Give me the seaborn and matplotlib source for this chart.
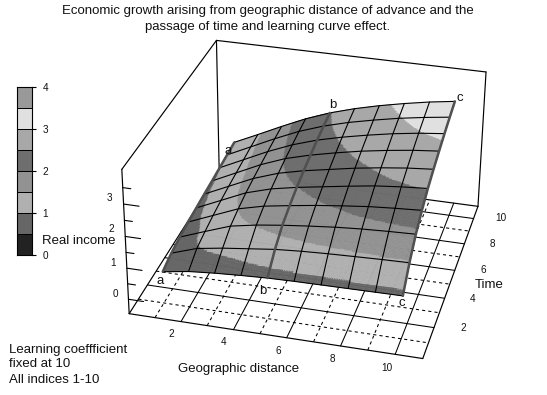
# -*- coding: utf-8 -*-
"""Economic growth surface over geographic distance and time."""
import numpy as np
import matplotlib
matplotlib.use("Agg")
import matplotlib.pyplot as plt
import matplotlib.tri as mtri
from matplotlib.colors import ListedColormap, BoundaryNorm
import seaborn as sns

sns.set_theme(style="white")
plt.rcParams["font.family"] = ["Liberation Sans", "DejaVu Sans"]

W, H = 547, 395

distance = [1, 2, 3, 4, 5, 6, 7, 8, 9, 10]
time = [1, 2, 3, 4, 5, 6, 7, 8, 9, 10]
income = [
    [0.55, 0.68, 0.75, 0.80, 0.84, 0.86, 0.87, 0.88, 0.89, 0.90],
    [0.70, 0.97, 1.10, 1.20, 1.30, 1.36, 1.40, 1.43, 1.46, 1.48],
    [0.78, 1.08, 1.37, 1.52, 1.63, 1.72, 1.80, 1.86, 1.90, 1.93],
    [0.84, 1.17, 1.50, 1.70, 1.83, 1.95, 2.05, 2.14, 2.20, 2.25],
    [0.88, 1.24, 1.60, 1.84, 2.00, 2.13, 2.26, 2.38, 2.46, 2.52],
    [0.92, 1.29, 1.66, 1.94, 2.13, 2.28, 2.43, 2.55, 2.65, 2.72],
    [0.95, 1.33, 1.71, 2.02, 2.24, 2.42, 2.58, 2.71, 2.82, 2.90],
    [0.99, 1.37, 1.75, 2.08, 2.34, 2.54, 2.71, 2.86, 2.98, 3.07],
    [1.03, 1.41, 1.79, 2.14, 2.42, 2.64, 2.82, 2.98, 3.11, 3.22],
    [1.07, 1.44, 1.82, 2.18, 2.48, 2.72, 2.92, 3.09, 3.24, 3.36],
]
band_levels = [0, 0.5, 1, 1.5, 2, 2.5, 3, 3.5, 4]
band_colors = ["#222222", "#666666", "#b0b0b0", "#929292",
               "#6e6e6e", "#a8a8a8", "#e0e0e0", "#999999"]
marked_lines = {"a": 1, "b": 5, "c": 10}
XMAX, YMAX, ZMIN, ZMAX = 11, 11, -0.47, 4.05

fig = plt.figure(figsize=(W / 100, H / 100), dpi=100)

def label(x, y, s, size=9.55, ha="center"):
    fig.text(x / W, 1 - y / H, s, fontsize=size, ha=ha, va="center", color="#111111")

# camera fitted to the corners of the box in the reference
ax = fig.add_axes([91.62 / W, -15.53 / H, 431.02 / W, 431.02 / H], projection="3d")
ax.view_init(29.4184, -75.6482, -0.4698)
ax.set_proj_type("persp", focal_length=0.7756)
ax.set_box_aspect((1, 1.0177, 0.5502))
ax.set_axis_off()
ax.computed_zorder = False

def seg(a, b, **kw):
    ax.plot([a[0], b[0]], [a[1], b[1]], [a[2], b[2]], **kw)

box = dict(color="black", lw=0.85, zorder=1)
corners = [((0, 0, ZMIN), (XMAX, 0, ZMIN)), ((XMAX, 0, ZMIN), (XMAX, YMAX, ZMIN)),
           ((XMAX, YMAX, ZMIN), (0, YMAX, ZMIN)), ((0, YMAX, ZMIN), (0, 0, ZMIN)),
           ((0, 0, ZMIN), (0, 0, ZMAX)), ((0, 0, ZMAX), (0, YMAX, ZMAX)),
           ((0, YMAX, ZMAX), (XMAX, YMAX, ZMAX)), ((XMAX, YMAX, ZMAX), (XMAX, YMAX, ZMIN)),
           ((0, YMAX, ZMAX), (0, YMAX, ZMIN))]
for a, b in corners:
    seg(a, b, **box)

# floor grid: even values solid, odd dashed
for v in distance:
    st = dict(ls="-") if v % 2 == 0 else dict(ls=(0, (3, 3)))
    seg((v, 0, ZMIN), (v, YMAX, ZMIN), color="black", lw=0.75, zorder=1, **st)
for v in time:
    st = dict(ls="-") if v % 2 == 0 else dict(ls=(0, (3, 3)))
    seg((0, v, ZMIN), (XMAX, v, ZMIN), color="black", lw=0.75, zorder=1, **st)

# height ticks on the front left edge
for v in [0, 1, 2, 3]:
    seg((0, 0, v), (0.58, 0, v), color="black", lw=0.8, zorder=1)
for v in [0.5, 1.5, 2.5, 3.5]:
    seg((0, 0, v), (0.3, 0, v), color="black", lw=0.8, zorder=1)

# surface with banded colours
gx, gy = np.meshgrid(distance, time)
gz = np.array(income)
tri = mtri.Triangulation(gx.ravel().astype(float), gy.ravel().astype(float))
tri_fine, z_fine = mtri.UniformTriRefiner(tri).refine_field(gz.ravel(), subdiv=4)
cmap = ListedColormap(band_colors)
norm = BoundaryNorm(band_levels, cmap.N)
surf = ax.plot_trisurf(tri_fine, z_fine, cmap=cmap, norm=norm, shade=False,
                       linewidth=0, antialiased=True, zorder=2)
surf.set_edgecolor("face")
surf.set_linewidth(0.3)

for i in range(len(time)):
    ax.plot(distance, [time[i]] * len(distance), gz[i, :], color="black", lw=0.8, zorder=3)
for j in range(len(distance)):
    ax.plot([distance[j]] * len(time), time, gz[:, j], color="black", lw=0.8, zorder=3)
for name, v in marked_lines.items():
    j = distance.index(v)
    ax.plot([v] * len(time), time, gz[:, j], color="#505050", lw=1.8, zorder=4)

ax.set_xlim(0, XMAX); ax.set_ylim(0, YMAX); ax.set_zlim(ZMIN, ZMAX)

# colour key
cax = fig.add_axes([16.5 / W, 1 - 255 / H, 15 / W, 168 / H])
key = np.arange(len(band_colors))[::-1].reshape(-1, 1)
sns.heatmap(key, cmap=cmap, cbar=False, linewidths=0.7, linecolor="black",
            xticklabels=False, ax=cax)
cax.yaxis.tick_right()
cax.set_yticks([0, 2, 4, 6, 8])
cax.set_yticklabels(["4", "3", "2", "1", "0"], rotation=0, fontsize=7.2, color="#111111")
cax.tick_params(axis="y", length=3, width=0.8, color="black", right=True, left=False, pad=5)
for sp in cax.spines.values():
    sp.set_visible(True); sp.set_color("black"); sp.set_linewidth(0.8)

label(268, 11, "Economic growth arising from geographic distance of advance and the")
label(268, 27, "passage of time and learning curve effect.")
label(42, 241, "Real income", ha="left")
label(239, 369, "Geographic distance")
label(489, 285, "Time")
label(9, 350, "Learning coeffficient", ha="left")
label(9, 364, "fixed at 10", ha="left")
label(9, 380, "All indices 1-10", ha="left")

for x, y, s in [(109, 198, "3"), (111, 229, "2"), (113, 263, "1"), (115, 294, "0"),
                (171, 334, "2"), (224, 342, "4"), (278, 351, "6"), (332, 359, "8"), (387, 368, "10"),
                (463, 328, "2"), (473, 299, "4"), (483, 270, "6"), (492, 244, "8"), (501, 218, "10")]:
    label(x, y, s, size=7.2)

for x, y, s in [(160, 281, "a"), (228, 151, "a"), (263, 291, "b"), (333, 105, "b"),
                (402, 303, "c"), (460, 98, "c")]:
    label(x, y, s)

fig.savefig("out.png", dpi=100)
